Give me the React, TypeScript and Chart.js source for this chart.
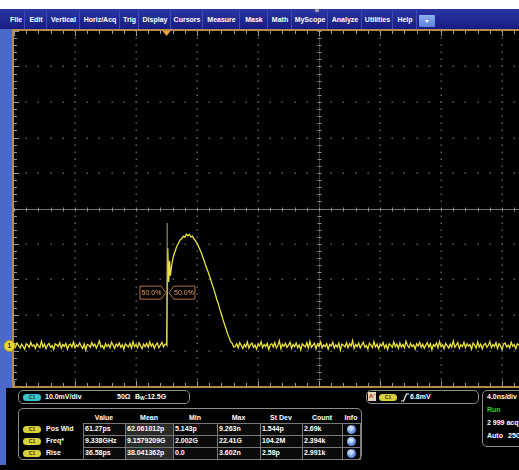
import React, { useEffect, useRef } from "react";
import { Chart, registerables } from "chart.js";

Chart.register(...registerables);

// ---------- axis definitions ----------
const NS_PER_DIV = 4;
const MV_PER_DIV = 10;
const X_MIN_NS = -10;
const X_MAX_NS = 23.11;
const Y_MIN_MV = -11.3;
const Y_MAX_MV = 88.7;

// ---------- waveform (channel 1) ----------
const SAMPLE_NS = 0.1;
const PRE_START_NS = -10;
const preEdgeNoiseMv = [
  0.4, -0.3, 0.8, 0.1, -0.6, 0.5, -0.2, -0.9, 0.6, 0.2,
  -0.4, 1.0, -0.1, 0.3, -0.7, 0.6, 0.0, -0.5, 1.3, -0.3,
  0.5, -0.8, 0.2, 0.7, -0.4, 0.1, -1.0, 0.6, 0.3, -0.2,
  0.9, -0.6, 0.4, -0.1, 0.7, -0.9, 0.2, 0.5, -0.3, 1.1,
  -0.5, 0.3, -0.2, 0.8, 0.0, -0.7, 0.6, -1.2, 0.4, 0.2,
  -0.4, 0.9, -0.1, 0.5, -0.6, 0.3, 1.4, -0.3, 0.1, -0.8,
  0.6, -0.2, 0.4, -0.5, 1.0, 0.2, -0.7, 0.5, -0.1, 0.8,
  -0.4, 0.3, -0.9, 0.6, 0.1, -0.3, 0.7, -0.6, 1.2, -0.2,
  0.4, -0.5, 0.9, 0.0, -0.8, 0.5, -0.2, 0.7, -0.4, 1.1,
  -0.1, 0.6, -0.7, 0.3, 0.8, -0.5, 0.2, 1.0, -0.3, 0.5,
];
const pulseTimesNs = [
  0.0, 0.08, 0.14, 0.2, 0.25, 0.35, 0.45, 0.55, 0.67, 0.78,
  0.9, 1.0, 1.1, 1.2, 1.3, 1.4, 1.5, 1.6, 1.7, 1.8,
  1.9, 2.0, 2.1, 2.2, 2.3, 2.4, 2.5, 2.6, 2.7, 2.8,
  2.9, 3.0, 3.1, 3.2, 3.3, 3.4, 3.5, 3.6, 3.7, 3.8,
  3.9, 4.0, 4.1, 4.2, 4.3, 4.4,
];
const pulseValuesMv = [
  0.3, 27.5, 18.0, 24.0, 19.8, 23.0, 25.2, 26.5, 28.0, 28.9,
  29.9, 30.2, 30.9, 30.6, 31.5, 31.0, 31.4, 30.7, 30.9, 30.1,
  29.6, 28.9, 28.0, 27.0, 26.0, 24.7, 23.6, 22.2, 21.2, 19.9,
  18.7, 17.2, 16.0, 14.6, 13.0, 11.9, 10.2, 9.0, 7.4, 6.1,
  4.9, 3.4, 2.4, 1.2, 0.8, -0.3,
];
const POST_START_NS = 4.5;
const postEdgeNoiseMv = [
  -0.2, 0.6, -0.5, 0.9, 0.1, -0.7, 0.4, -0.3, 1.1, -0.6,
  0.3, 0.8, -0.4, 0.2, -0.9, 0.5, 0.0, 1.2, -0.5, 0.4,
  -0.2, 0.7, -1.0, 0.3, 0.6, -0.3, 0.9, -0.6, 0.1, 1.4,
  -0.8, 0.5, -0.1, 0.7, -0.4, 0.2, 1.0, -0.7, 0.4, -0.2,
  0.8, -0.5, 0.3, -1.1, 0.6, 0.1, -0.3, 0.9, -0.6, 1.3,
  -0.4, 0.2, 0.7, -0.8, 0.5, -0.1, 1.1, -0.5, 0.3, -0.2,
  0.6, -0.9, 0.4, 0.0, 1.0, -0.6, 0.3, -0.4, 0.8, -1.2,
  0.5, 0.2, -0.3, 0.9, -0.5, 0.6, -0.1, 1.5, -0.7, 0.4,
  -0.2, 0.8, -0.6, 0.3, 1.0, -0.4, 0.1, -0.9, 0.7, 0.2,
  -0.5, 1.2, -0.3, 0.5, -0.8, 0.4, 0.0, 0.9, -0.6, 0.3,
  -1.0, 0.6, 0.2, -0.4, 1.1, -0.2, 0.5, -0.7, 0.8, -0.3,
  0.4, -0.6, 1.3, 0.1, -0.5, 0.7, -0.2, 0.3, -0.9, 0.6,
  0.0, 1.0, -0.4, 0.5, -0.7, 0.2, 0.9, -0.3, 0.6, -1.1,
  0.4, -0.1, 0.8, -0.5, 1.2, -0.2, 0.3, -0.8, 0.7, 0.1,
  -0.6, 0.5, -0.3, 1.4, -0.4, 0.2, 0.9, -0.7, 0.3, -0.2,
  1.0, -0.5, 0.6, -0.1, 0.4, -0.9, 0.8, 0.2, -0.6, 1.1,
  -0.3, 0.5, -0.8, 0.3, 0.7, -0.4, 0.1, 1.2, -0.5, 0.4,
  -0.2, 0.9, -0.7, 0.6, 0.0, -1.0, 0.5, 0.8, -0.3, 0.2,
  -0.6, 1.0, -0.1, 0.4, -0.8, 0.6, 0.3, -0.4,
];
const spikeTimesNs = [0.04, 0.04];
const spikeValuesMv = [-0.4, 34.6];

const TRIGGER_TIME_NS = 0;
const CROSSING_TIME_NS = 0.03;
const CROSSING_LEVEL_MV = 15;
const crossingLabels = ["50.0%", "50.0%"];
const GROUND_LEVEL_MV = 0;
const CHANNEL_NUMBER = "1";

// ---------- UI texts ----------
const menuItems = ["File", "Edit", "Vertical", "Horiz/Acq", "Trig", "Display", "Cursors", "Measure", "Mask", "Math", "MyScope", "Analyze", "Utilities", "Help"];
const channelScale = "10.0mV/div";
const channelImpedance = "50Ω";
const channelBandwidth = "12.5G";
const measureHeaders = ["Value", "Mean", "Min", "Max", "St Dev", "Count", "Info"];
const measureNames = ["Pos Wid", "Freq*", "Rise"];
const measureValue = ["61.27ps", "9.338GHz", "36.58ps"];
const measureMean = ["62.061012p", "9.1579209G", "38.041362p"];
const measureMin = ["5.143p", "2.002G", "0.0"];
const measureMax = ["9.263n", "22.41G", "3.602n"];
const measureStdDev = ["1.544p", "104.2M", "2.58p"];
const measureCount = ["2.69k", "2.394k", "2.991k"];
const triggerLevel = "6.8mV";
const horizScale = "4.0ns/div";
const acqState = "Run";
const acqCount = "2 999 acqs";
const acqMode = "Auto";
const sampleRate = "25GS/s";

// ---------- layout constants ----------
const FONT = '"Liberation Sans", Arial, Helvetica, sans-serif';
const MENU_X0 = 7;
const MENU_W = [18, 22, 33, 40, 19, 32, 32, 37, 28, 24, 36, 34, 31, 24];
const COL_X = [83, 125, 173, 217, 260, 302, 342, 360];
const ROW_Y = [423, 435, 447];
const ROW_H = 12;

const scopePlugin = {
  id: "scopeGraticule",
  beforeDatasetsDraw(chart: any) {
    const { ctx, chartArea: a, scales } = chart;
    const xs = scales.x;
    const ys = scales.y;
    ctx.save();
    ctx.fillStyle = "#000";
    ctx.fillRect(a.left, a.top, a.right - a.left, a.bottom - a.top);

    const xMinorStep = NS_PER_DIV / 5;
    const yMinorStep = MV_PER_DIV / 5;
    const xMinors: number[] = [];
    for (let i = 0; X_MIN_NS + i * xMinorStep <= X_MAX_NS + 1e-6; i++) xMinors.push(X_MIN_NS + i * xMinorStep);
    const yMinors: number[] = [];
    for (let i = 0; Y_MIN_MV + i * yMinorStep <= Y_MAX_MV + 1e-6; i++) yMinors.push(Y_MIN_MV + i * yMinorStep);

    const xCenter = X_MIN_NS + 5 * NS_PER_DIV;
    const yCenter = Y_MIN_MV + 5 * MV_PER_DIV;

    // dotted major grid
    ctx.fillStyle = "#5e5e5e";
    for (let k = 1; X_MIN_NS + k * NS_PER_DIV < X_MAX_NS; k++) {
      const t = X_MIN_NS + k * NS_PER_DIV;
      if (k === 5) continue;
      const px = Math.round(xs.getPixelForValue(t));
      for (const v of yMinors) {
        const py = Math.round(ys.getPixelForValue(v));
        ctx.fillRect(px - 0.5, py - 0.5, 1.5, 1.5);
      }
    }
    for (let k = 1; k < 10; k++) {
      if (k === 5) continue;
      const v = Y_MIN_MV + k * MV_PER_DIV;
      const py = Math.round(ys.getPixelForValue(v));
      for (const t of xMinors) {
        const px = Math.round(xs.getPixelForValue(t));
        ctx.fillRect(px - 0.5, py - 0.5, 1.5, 1.5);
      }
    }

    // center crosshair
    const cx = Math.round(xs.getPixelForValue(xCenter)) + 0.5;
    const cy = Math.round(ys.getPixelForValue(yCenter)) + 0.5;
    ctx.strokeStyle = "#747474";
    ctx.lineWidth = 1;
    ctx.beginPath();
    ctx.moveTo(a.left, cy);
    ctx.lineTo(a.right, cy);
    ctx.stroke();
    ctx.strokeStyle = "#3a3a3a";
    ctx.beginPath();
    ctx.moveTo(cx, a.top);
    ctx.lineTo(cx, a.bottom);
    ctx.stroke();
    ctx.strokeStyle = "#8a8a8a";
    ctx.beginPath();
    for (const t of xMinors) {
      const px = Math.round(xs.getPixelForValue(t)) + 0.5;
      ctx.moveTo(px, cy - 2);
      ctx.lineTo(px, cy + 2);
    }
    for (const v of yMinors) {
      const py = Math.round(ys.getPixelForValue(v)) + 0.5;
      ctx.moveTo(cx - 2, py);
      ctx.lineTo(cx + 2, py);
    }
    ctx.stroke();

    // edge ticks
    ctx.strokeStyle = "#9a9a9a";
    ctx.beginPath();
    xMinors.forEach((t, i) => {
      const px = Math.round(xs.getPixelForValue(t)) + 0.5;
      const len = i % 5 === 0 ? 5 : 3;
      ctx.moveTo(px, a.top);
      ctx.lineTo(px, a.top + len);
      ctx.moveTo(px, a.bottom);
      ctx.lineTo(px, a.bottom - len);
    });
    yMinors.forEach((v, i) => {
      const py = Math.round(ys.getPixelForValue(v)) + 0.5;
      const len = i % 5 === 0 ? 5 : 3;
      ctx.moveTo(a.left, py);
      ctx.lineTo(a.left + len, py);
    });
    ctx.stroke();

    // frame
    ctx.strokeStyle = "#b9884c";
    ctx.lineWidth = 2;
    ctx.beginPath();
    ctx.moveTo(a.left - 1, a.top - 2);
    ctx.lineTo(a.left - 1, a.bottom + 2);
    ctx.moveTo(a.left - 2, a.top - 1);
    ctx.lineTo(a.right, a.top - 1);
    ctx.moveTo(a.left - 2, a.bottom + 1);
    ctx.lineTo(a.right, a.bottom + 1);
    ctx.stroke();

    // trigger position marker
    const tx = xs.getPixelForValue(TRIGGER_TIME_NS);
    ctx.fillStyle = "#f2a72a";
    ctx.beginPath();
    ctx.moveTo(tx - 4, a.top);
    ctx.lineTo(tx + 4, a.top);
    ctx.lineTo(tx, a.top + 5);
    ctx.closePath();
    ctx.fill();
    ctx.restore();
  },
  afterDatasetsDraw(chart: any) {
    const { ctx, scales } = chart;
    const xs = scales.x;
    const ys = scales.y;
    ctx.save();
    // 50% crossing markers
    const px = xs.getPixelForValue(CROSSING_TIME_NS);
    const py = ys.getPixelForValue(CROSSING_LEVEL_MV);
    const h = 6.5;
    ctx.lineWidth = 1;
    ctx.strokeStyle = "#b5703a";
    ctx.fillStyle = "rgba(0,0,0,0.55)";
    ctx.beginPath();
    ctx.moveTo(px - 27, py - h);
    ctx.lineTo(px - 6, py - h);
    ctx.lineTo(px - 1, py);
    ctx.lineTo(px - 6, py + h);
    ctx.lineTo(px - 27, py + h);
    ctx.closePath();
    ctx.fill();
    ctx.stroke();
    ctx.beginPath();
    ctx.moveTo(px + 28, py - h);
    ctx.lineTo(px + 7, py - h);
    ctx.lineTo(px + 2, py);
    ctx.lineTo(px + 7, py + h);
    ctx.lineTo(px + 28, py + h);
    ctx.closePath();
    ctx.fill();
    ctx.stroke();
    ctx.fillStyle = "#e39d62";
    ctx.font = "7px " + FONT;
    ctx.textBaseline = "middle";
    ctx.textAlign = "center";
    ctx.fillText(crossingLabels[0], px - 15.5, py + 0.5);
    ctx.fillText(crossingLabels[1], px + 17, py + 0.5);

    // ground reference marker
    const gy = ys.getPixelForValue(GROUND_LEVEL_MV);
    ctx.beginPath();
    ctx.arc(9.5, gy, 5.5, 0, Math.PI * 2);
    ctx.fillStyle = "#e9d52e";
    ctx.fill();
    ctx.strokeStyle = "#a8951a";
    ctx.stroke();
    ctx.fillStyle = "#3a3410";
    ctx.font = "bold 7px " + FONT;
    ctx.fillText(CHANNEL_NUMBER, 9.5, gy + 0.5);
    ctx.restore();
  },
};

type TxtProps = { x: number; y: number; children: React.ReactNode; color?: string; size?: number; bold?: boolean; w?: number; align?: "left" | "center" | "right" };
function Txt({ x, y, children, color = "#fff", size = 7, bold = true, w, align = "left" }: TxtProps) {
  return (
    <div
      style={{
        position: "absolute",
        left: x,
        top: y - 5,
        height: 10,
        lineHeight: "10px",
        fontSize: size,
        fontWeight: bold ? 700 : 400,
        color,
        whiteSpace: "nowrap",
        width: w,
        textAlign: align,
        fontFamily: FONT,
      }}
    >
      {children}
    </div>
  );
}

function Pill({ x, y, bg, label, w = 18 }: { x: number; y: number; bg: string; label: string; w?: number }) {
  return (
    <div
      style={{
        position: "absolute",
        left: x,
        top: y - 3.5,
        width: w,
        height: 7,
        borderRadius: 3.5,
        background: bg,
        color: "#2c2c10",
        fontSize: 5,
        lineHeight: "7px",
        fontWeight: 700,
        textAlign: "center",
        fontFamily: FONT,
      }}
    >
      {label}
    </div>
  );
}

function Box({ x, y, w, h }: { x: number; y: number; w: number; h: number }) {
  return (
    <div
      style={{
        position: "absolute",
        left: x,
        top: y,
        width: w,
        height: h,
        border: "1px solid #8c8c8c",
        borderRadius: 5,
        boxSizing: "border-box",
      }}
    />
  );
}

function InfoIcon({ x, y }: { x: number; y: number }) {
  return (
    <div
      style={{
        position: "absolute",
        left: x - 4.5,
        top: y - 4.5,
        width: 9,
        height: 9,
        borderRadius: "50%",
        background: "radial-gradient(circle at 35% 35%, #d6e6ff 0%, #7aa4ec 45%, #3560c4 100%)",
        color: "#fff",
        fontSize: 6,
        lineHeight: "9px",
        textAlign: "center",
        fontWeight: 700,
        fontFamily: FONT,
      }}
    >
      ?
    </div>
  );
}

export default function App() {
  const ref = useRef<HTMLCanvasElement | null>(null);

  useEffect(() => {
    const canvas = ref.current;
    if (!canvas) return;
    const trace = [
      ...preEdgeNoiseMv.map((v, i) => ({ x: PRE_START_NS + i * SAMPLE_NS, y: v })),
      ...pulseTimesNs.map((t, i) => ({ x: t, y: pulseValuesMv[i] })),
      ...postEdgeNoiseMv.map((v, i) => ({ x: POST_START_NS + i * SAMPLE_NS, y: v })),
    ];
    const spike = spikeTimesNs.map((t, i) => ({ x: t, y: spikeValuesMv[i] }));
    const chart = new Chart(canvas, {
      type: "line",
      data: {
        datasets: [
          { data: spike, borderColor: "#a9a98f", borderWidth: 1, pointRadius: 0 },
          { data: trace, borderColor: "#ece43c", borderWidth: 1.3, pointRadius: 0, tension: 0 },
        ],
      },
      options: {
        animation: false,
        responsive: false,
        devicePixelRatio: 1,
        events: [],
        layout: { padding: { left: 14, top: 2, right: 0, bottom: 2 } },
        plugins: { legend: { display: false }, tooltip: { enabled: false } },
        scales: {
          x: { type: "linear", min: X_MIN_NS, max: X_MAX_NS, display: false },
          y: { type: "linear", min: Y_MIN_MV, max: Y_MAX_MV, display: false },
        },
      },
      plugins: [scopePlugin],
    } as any);
    return () => chart.destroy();
  }, []);

  let mx = MENU_X0;
  const menuCells = menuItems.map((m, i) => {
    const left = mx;
    mx += MENU_W[i];
    return (
      <React.Fragment key={m}>
        <Txt x={left} y={20} w={MENU_W[i]} align="center" size={7}>
          {m}
        </Txt>
        <div style={{ position: "absolute", left: left + MENU_W[i] - 1, top: 10, width: 1, height: 19, background: "#3c4bb4" }} />
      </React.Fragment>
    );
  });

  const columns = [measureValue, measureMean, measureMin, measureMax, measureStdDev, measureCount];

  return (
    <div style={{ position: "fixed", left: 0, top: 0, width: 519, height: 470, background: "#000", overflow: "hidden", fontFamily: FONT }}>
      {/* top white strip and menu bar */}
      <div style={{ position: "absolute", left: 0, top: 0, width: 519, height: 9, background: "#fff" }} />
      <div style={{ position: "absolute", left: 0, top: 9, width: 519, height: 20, background: "linear-gradient(#2a35a6, #161d80)" }} />
      <div style={{ position: "absolute", left: 315, top: 9, width: 4, height: 3, background: "#9a9aa8" }} />
      {menuCells}
      <div style={{ position: "absolute", left: 419, top: 15, width: 16, height: 12, background: "linear-gradient(#8fb0f2, #5a80da)", borderRadius: 1 }}>
        <div style={{ position: "absolute", left: 5.5, top: 4.5, width: 0, height: 0, borderLeft: "2.5px solid transparent", borderRight: "2.5px solid transparent", borderTop: "3px solid #fff" }} />
      </div>

      {/* left blue strip */}
      <div style={{ position: "absolute", left: 0, top: 29, width: 13, height: 359, background: "#4b69c9" }} />
      <div style={{ position: "absolute", left: 0, top: 388, width: 6, height: 77, background: "#4b69c9" }} />

      <canvas ref={ref} width={519} height={359} style={{ position: "absolute", left: 0, top: 29 }} />

      {/* channel readout */}
      <Box x={18} y={390} w={172} h={14} />
      <Pill x={23} y={397} bg="#36c3cc" label="C1" />
      <Txt x={45} y={397}>{channelScale}</Txt>
      <Txt x={117} y={397}>{channelImpedance}</Txt>
      <Txt x={135} y={397}>
        B<sub style={{ fontSize: 5, verticalAlign: "-1px" }}>W</sub>:{channelBandwidth}
      </Txt>

      {/* measurement table */}
      <Box x={18} y={408} w={344} h={52} />
      {measureHeaders.map((hd, i) => (
        <Txt key={hd} x={COL_X[i]} y={418} w={COL_X[i + 1] - COL_X[i]} align="center">
          {hd}
        </Txt>
      ))}
      {measureNames.map((name, r) => (
        <React.Fragment key={name}>
          <Pill x={23} y={ROW_Y[r] + ROW_H / 2} bg="#d9d23c" label="C1" />
          <Txt x={46} y={ROW_Y[r] + ROW_H / 2}>{name}</Txt>
          {columns.map((col, c) => (
            <div
              key={c}
              style={{
                position: "absolute",
                left: COL_X[c],
                top: ROW_Y[r],
                width: COL_X[c + 1] - COL_X[c] + 1,
                height: ROW_H + 1,
                border: "1px solid #7a7a7a",
                boxSizing: "border-box",
                background: c === 1 ? "#2b2b2b" : "#0a0a0a",
              }}
            />
          ))}
          {columns.map((col, c) => (
            <Txt key={"t" + c} x={COL_X[c] + 2} y={ROW_Y[r] + ROW_H / 2}>
              {col[r]}
            </Txt>
          ))}
          <div
            style={{
              position: "absolute",
              left: COL_X[6],
              top: ROW_Y[r],
              width: COL_X[7] - COL_X[6] + 1,
              height: ROW_H + 1,
              border: "1px solid #7a7a7a",
              boxSizing: "border-box",
            }}
          />
          <InfoIcon x={(COL_X[6] + COL_X[7]) / 2 + 0.5} y={ROW_Y[r] + ROW_H / 2 + 0.5} />
        </React.Fragment>
      ))}

      {/* trigger readout */}
      <Box x={366} y={390} w={113} h={14} />
      <div style={{ position: "absolute", left: 368, top: 392, width: 8, height: 9, background: "#e6d4b8", color: "#a8321e", fontSize: 6, lineHeight: "9px", fontWeight: 700, textAlign: "center", fontFamily: FONT }}>
        A'
      </div>
      <Pill x={379} y={397} bg="#d9d23c" label="C1" />
      <svg style={{ position: "absolute", left: 401, top: 393 }} width={8} height={9}>
        <polyline points="0,8 2.5,8 5.5,1 8,1" fill="none" stroke="#fff" strokeWidth={1.2} />
      </svg>
      <Txt x={410} y={397}>{triggerLevel}</Txt>

      {/* horizontal / acquisition readout */}
      <Box x={482} y={390} w={60} h={57} />
      <Txt x={487} y={397}>{horizScale}</Txt>
      <Txt x={487} y={410} color="#2ed12e">{acqState}</Txt>
      <Txt x={487} y={423}>{acqCount}</Txt>
      <Txt x={487} y={436}>{acqMode}</Txt>
      <Txt x={508} y={436}>{sampleRate}</Txt>
    </div>
  );
}
